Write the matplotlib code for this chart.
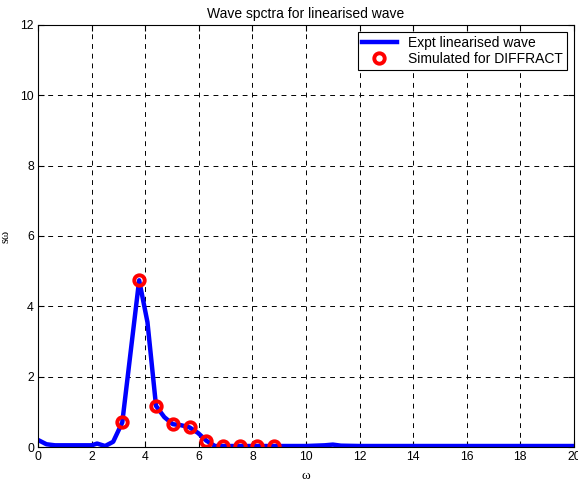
import matplotlib

matplotlib.use("Agg")

import matplotlib.pyplot as plt

# experimental linearised wave spectrum
omega_expt = [0.0, 0.31, 0.63, 1.0, 1.5, 2.0, 2.2, 2.5, 2.8, 3.14, 3.77, 4.08,
              4.40, 4.71, 5.03, 5.34, 5.65, 5.97, 6.28, 6.6, 7.0, 8.0, 9.0,
              10.0, 10.7, 11.0, 11.3, 12.0, 14.0, 16.0, 18.0, 20.0]
s_expt = [0.2, 0.08, 0.05, 0.05, 0.05, 0.05, 0.1, 0.03, 0.15, 0.7, 4.74, 3.55,
          1.17, 0.85, 0.65, 0.62, 0.56, 0.4, 0.18, 0.03, 0.03, 0.03, 0.03,
          0.03, 0.05, 0.07, 0.04, 0.03, 0.03, 0.03, 0.03, 0.03]

# simulated points for DIFFRACT
omega_sim = [3.14, 3.77, 4.40, 5.03, 5.65, 6.28, 6.91, 7.54, 8.17, 8.80]
s_sim = [0.70, 4.74, 1.17, 0.65, 0.56, 0.18, 0.03, 0.03, 0.03, 0.03]

plt.rcParams["font.family"] = ["Liberation Sans", "DejaVu Sans"]

fig = plt.figure(figsize=(5.78, 4.87), dpi=100)
ax = fig.add_axes([0.066, 0.082, 0.927, 0.867])

ax.plot(omega_expt, s_expt, color="#0000ff", lw=3.2, label="Expt linearised wave")
ax.plot(omega_sim, s_sim, ls="none", marker="o", ms=7.5, mfc="none",
        mec="#ff0000", mew=2.8, label="Simulated for DIFFRACT")

ax.set_xlim(0, 20)
ax.set_ylim(0, 12)
ax.set_xticks(range(0, 21, 2))
ax.set_yticks(range(0, 13, 2))
ax.tick_params(direction="in", labelsize=8.8, length=4, width=0.8,
               top=True, right=True, pad=3)
ax.grid(True, color="black", ls=(0, (5, 5)), lw=0.7)
for sp in ax.spines.values():
    sp.set_linewidth(0.8)

ax.set_title("Wave spctra for linearised wave", fontsize=10, pad=5)
ax.set_xlabel("ω", fontsize=9.5, family=["Liberation Serif", "DejaVu Serif"])
ax.xaxis.set_label_coords(0.5, -0.055)
ax.set_ylabel("sω", fontsize=9, family=["Liberation Serif", "DejaVu Serif"])
ax.yaxis.set_label_coords(-0.05, 0.5)

leg = ax.legend(loc="upper right", fontsize=10, fancybox=False,
                edgecolor="black", framealpha=1, borderaxespad=0.5,
                handlelength=2.5, borderpad=0.3, labelspacing=0.15)
leg.get_frame().set_linewidth(0.8)

fig.savefig("out.png", dpi=100)
